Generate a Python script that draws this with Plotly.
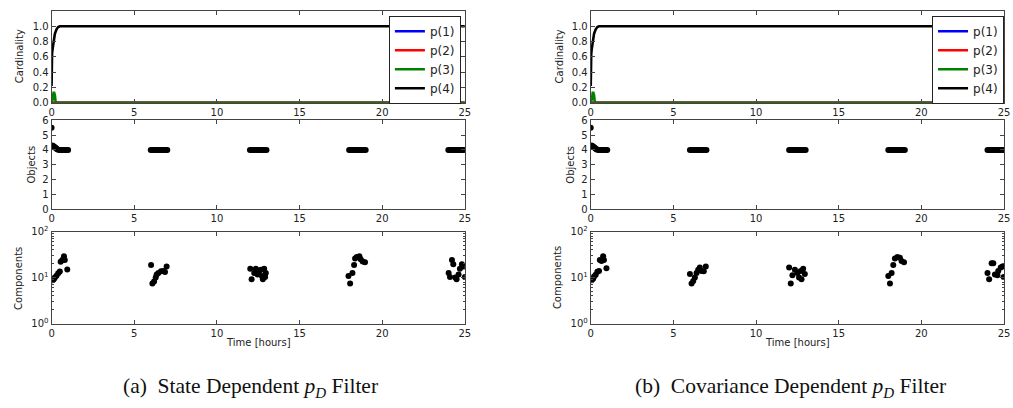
import plotly.graph_objects as go

# ---------------- data ----------------
card_t_p12 = [0.0, 25.0]
card_p1 = [0.0, 0.0]
card_p2 = [0.0, 0.0]
card_t_p3 = [0.0, 0.08, 0.12, 0.16, 0.2, 0.24, 0.3, 25.0]
card_p3 = [0.0, 0.06, 0.13, 0.13, 0.1, 0.02, 0.0, 0.0]
card_t_p4 = [0.0, 0.01, 0.03, 0.06, 0.1, 0.15, 0.2, 0.3, 0.4, 0.5, 0.6, 25.0]
card_p4 = [0.22, 0.58, 0.64, 0.7, 0.77, 0.84, 0.9, 0.96, 0.99, 1.0, 1.0, 1.0]

obj_t = [0.0, 0.05, 0.1, 0.15, 0.2, 0.25, 0.3, 0.35, 0.4, 0.5, 0.6, 0.7, 0.8, 0.9, 1.0,
         6.0, 6.1, 6.2, 6.3, 6.4, 6.5, 6.6, 6.7, 6.8, 6.9, 7.0,
         12.0, 12.1, 12.2, 12.3, 12.4, 12.5, 12.6, 12.7, 12.8, 12.9, 13.0,
         18.0, 18.1, 18.2, 18.3, 18.4, 18.5, 18.6, 18.7, 18.8, 18.9, 19.0,
         24.0, 24.1, 24.2, 24.3, 24.4, 24.5, 24.6, 24.7, 24.8, 24.9, 25.0]
obj_a = [5.5, 4.3, 4.27, 4.22, 4.18, 4.13, 4.08, 4.05, 4.02, 4.0, 4.0, 4.0, 4.0, 4.0, 4.0,
         4.0, 4.0, 4.0, 4.0, 4.0, 4.0, 4.0, 4.0, 4.0, 4.0, 4.0,
         4.0, 4.0, 4.0, 4.0, 4.0, 4.0, 4.0, 4.0, 4.0, 4.0, 4.0,
         4.0, 4.0, 4.0, 4.0, 4.0, 4.0, 4.0, 4.0, 4.0, 4.0, 4.0,
         4.0, 4.0, 4.0, 4.0, 4.0, 4.0, 4.0, 4.0, 4.0, 4.0, 4.0]
obj_b = [5.5, 4.3, 4.27, 4.22, 4.18, 4.13, 4.08, 4.05, 4.02, 4.0, 4.0, 4.0, 4.0, 4.0, 4.0,
         4.0, 4.0, 4.0, 4.0, 4.0, 4.0, 4.0, 4.0, 4.0, 4.0, 4.0,
         4.0, 4.0, 4.0, 4.0, 4.0, 4.0, 4.0, 4.0, 4.0, 4.0, 4.0,
         4.0, 4.0, 4.0, 4.0, 4.0, 4.0, 4.0, 4.0, 4.0, 4.0, 4.0,
         4.0, 4.0, 4.0, 4.0, 4.0, 4.0, 4.0, 4.0, 4.0, 4.0, 4.0]

comp_t_a = [0.05, 0.1, 0.15, 0.2, 0.3, 0.4, 0.5, 0.55, 0.65, 0.75, 0.8, 0.95,
            6.02, 6.1, 6.2, 6.3, 6.36, 6.46, 6.62, 6.76, 6.86, 6.96,
            12.02, 12.1, 12.26, 12.36, 12.46, 12.56, 12.66, 12.72, 12.78, 12.86, 12.92, 12.96,
            17.96, 18.06, 18.2, 18.3, 18.36, 18.46, 18.62, 18.7, 18.82, 18.96,
            24.02, 24.1, 24.22, 24.3, 24.42, 24.5, 24.62, 24.7, 24.82, 24.92, 25.0]
comp_a = [8.8, 9.0, 9.4, 10.0, 11.0, 12.5, 13.5, 22.0, 24.0, 29.0, 24.0, 15.0,
          18.9, 7.4, 8.2, 10.0, 11.7, 12.6, 13.7, 14.0, 13.2, 17.5,
          15.6, 9.2, 12.6, 15.6, 11.7, 13.7, 14.8, 10.8, 9.2, 15.6, 10.3, 12.6,
          10.8, 7.4, 12.6, 18.9, 26.0, 28.0, 29.0, 25.0, 22.4, 21.6,
          12.6, 10.3, 24.0, 19.5, 10.0, 9.2, 11.7, 15.6, 19.5, 17.5, 10.3]

comp_t_b = [0.05, 0.1, 0.15, 0.2, 0.3, 0.4, 0.5, 0.55, 0.65, 0.75, 0.8, 0.95,
            6.0, 6.1, 6.2, 6.3, 6.4, 6.5, 6.6, 6.7, 6.84, 6.96,
            12.0, 12.1, 12.2, 12.35, 12.5, 12.6, 12.7, 12.75, 12.85, 12.95,
            18.0, 18.1, 18.2, 18.3, 18.4, 18.55, 18.7, 18.8, 18.95,
            24.0, 24.1, 24.25, 24.35, 24.45, 24.6, 24.65, 24.8, 24.9, 24.98]
comp_b = [8.8, 9.2, 9.6, 10.5, 11.5, 13.4, 14.0, 24.0, 23.0, 29.0, 24.0, 16.0,
          12.0, 7.4, 8.4, 10.0, 12.6, 14.8, 16.5, 14.0, 13.7, 17.5,
          16.5, 7.4, 11.3, 14.8, 12.6, 10.0, 14.0, 9.2, 15.6, 12.0,
          10.8, 7.4, 12.6, 18.9, 26.0, 28.0, 27.0, 23.0, 21.6,
          12.6, 9.2, 20.5, 20.5, 11.7, 11.3, 14.0, 16.5, 17.5, 10.3]

x_ticks = [0, 5, 10, 15, 20, 25]
card_ticks = [0.0, 0.2, 0.4, 0.6, 0.8, 1.0]
obj_ticks = [0, 1, 2, 3, 4, 5, 6]
comp_ticks = [1, 10, 100]
comp_ticktext = ["10<sup>0</sup>", "10<sup>1</sup>", "10<sup>2</sup>"]
legend_names = ["p(1)", "p(2)", "p(3)", "p(4)"]
legend_colors = ["#0000ff", "#ff0000", "#008000", "#000000"]
captions = ["(a)  State Dependent <i>p</i><sub><i>D</i></sub> Filter",
            "(b)  Covariance Dependent <i>p</i><sub><i>D</i></sub> Filter"]

# ---------------- layout geometry ----------------
W, H = 1013, 408
def py(px):
    return 1 - px / H
def pxx(px):
    return px / W

col_x = [(49, 466), (593, 1010)]
row_y = [(4, 99), (117, 209), (232, 327)]

fig = go.Figure()
FONT = "DejaVu Sans"
spine = "#444444"

ax_common = dict(showgrid=False, zeroline=False, showline=True, linecolor=spine,
                 linewidth=1, mirror="ticks", ticks="inside", ticklen=4,
                 tickcolor=spine, tickfont=dict(family=FONT, size=10, color="#222"))

card_data = [(card_t_p12, card_p1), (card_t_p12, card_p2), (card_t_p3, card_p3), (card_t_p4, card_p4)]
objs = [obj_a, obj_b]
comps = [(comp_t_a, comp_a), (comp_t_b, comp_b)]

for c in range(2):
    base = c * 3
    legname = "legend" if c == 0 else "legend2"
    xa = [f"x{base + r + 1}" if base + r + 1 > 1 else "x" for r in range(3)]
    ya = [f"y{base + r + 1}" if base + r + 1 > 1 else "y" for r in range(3)]
    for i in range(4):
        fig.add_trace(go.Scatter(x=card_data[i][0], y=card_data[i][1], mode="lines",
                                 line=dict(color=legend_colors[i], width=2.6),
                                 name=legend_names[i], legend=legname,
                                 xaxis=xa[0], yaxis=ya[0]))
    fig.add_trace(go.Scatter(x=obj_t, y=objs[c], mode="markers",
                             marker=dict(color="black", size=6), showlegend=False,
                             xaxis=xa[1], yaxis=ya[1]))
    fig.add_trace(go.Scatter(x=comps[c][0], y=comps[c][1], mode="markers",
                             marker=dict(color="black", size=6), showlegend=False,
                             xaxis=xa[2], yaxis=ya[2]))

    x0, x1 = col_x[c]
    for r in range(3):
        k = base + r + 1
        xkey = "xaxis" if k == 1 else f"xaxis{k}"
        ykey = "yaxis" if k == 1 else f"yaxis{k}"
        y0, y1 = row_y[r]
        xd = dict(ax_common, domain=[pxx(x0), pxx(x1)], range=[0, 25], tickvals=x_ticks)
        xd["anchor"] = ya[r]
        fig.layout[xkey] = xd
        yd = dict(ax_common, domain=[py(y1), py(y0)], anchor=xa[r])
        if r == 0:
            yd.update(range=[0, 1.2], tickvals=card_ticks, tickformat=".1f")
        elif r == 1:
            yd.update(range=[0, 6], tickvals=obj_ticks)
        else:
            yd.update(type="log", range=[0, 2], tickvals=comp_ticks, ticktext=comp_ticktext,
                      minor=dict(ticks="inside", ticklen=2, tickcolor=spine,
                                 tickvals=[2, 3, 4, 5, 6, 7, 8, 9, 20, 30, 40, 50, 60, 70, 80, 90]))
        fig.layout[ykey] = yd

annos = []
title_font = dict(family=FONT, size=10, color="#222")
for c, (x0, x1) in enumerate(col_x):
    off = x0 - 49
    annos.append(dict(text="Cardinality", x=pxx(17 + off), y=py(51), xref="paper", yref="paper",
                      textangle=-90, showarrow=False, font=title_font, xanchor="center", yanchor="middle"))
    annos.append(dict(text="Objects", x=pxx(29 + off), y=py(163), xref="paper", yref="paper",
                      textangle=-90, showarrow=False, font=title_font, xanchor="center", yanchor="middle"))
    annos.append(dict(text="Components", x=pxx(15 + off), y=py(280), xref="paper", yref="paper",
                      textangle=-90, showarrow=False, font=title_font, xanchor="center", yanchor="middle"))
    annos.append(dict(text="Time [hours]", x=pxx((x0 + x1) / 2), y=py(347), xref="paper", yref="paper",
                      showarrow=False, font=title_font, xanchor="center", yanchor="middle"))
    annos.append(dict(text=captions[c], x=pxx([250, 795][c]), y=py(377), xref="paper", yref="paper",
                      showarrow=False, font=dict(family="Liberation Serif", size=21.5, color="#111"),
                      xanchor="center", yanchor="top"))

leg_common = dict(bgcolor="white", bordercolor="#222", borderwidth=1,
                  font=dict(family=FONT, size=12, color="#222"),
                  xanchor="right", yanchor="top", y=py(9), tracegroupgap=0)

fig.update_layout(
    width=W, height=H, margin=dict(l=0, r=0, t=0, b=0),
    paper_bgcolor="white", plot_bgcolor="white",
    annotations=annos,
    legend=dict(leg_common, x=pxx(462)),
    legend2=dict(leg_common, x=pxx(1010)),
)

fig.write_html("out.html")
